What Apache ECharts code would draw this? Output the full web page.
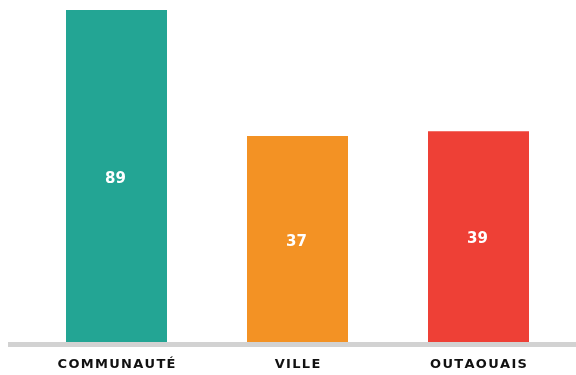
<!DOCTYPE html>
<html>
<head>
<meta charset="utf-8">
<script src="https://cdn.jsdelivr.net/npm/echarts@6/dist/echarts.min.js"></script>
<style>
  html, body { margin: 0; padding: 0; background: #ffffff; }
  #chart { width: 576px; height: 375px; }
</style>
</head>
<body>
<div id="chart"></div>
<script>
// Categories and values
const categories = ['COMMUNAUTÉ', 'VILLE', 'OUTAOUAIS'];
const values = [89, 37, 39];
const barColors = ['#23a594', '#f39224', '#ee4036'];

const chart = echarts.init(document.getElementById('chart'), null, { renderer: 'canvas' });

// Spread the letters of the category labels
const spaced = s => s.split('').join('\u200A');

chart.setOption({
  animation: false,
  grid: { left: 26, right: 7, top: 10, bottom: 33, containLabel: false },
  xAxis: {
    type: 'category',
    data: categories,
    axisLine: { show: false },
    axisTick: { show: false },
    axisLabel: {
      margin: 16,
      color: '#111111',
      fontFamily: 'DejaVu Sans',
      fontWeight: 'bold',
      fontSize: 13,
      formatter: v => spaced(v)
    }
  },
  yAxis: {
    type: 'value',
    min: -48,
    max: 89,
    startValue: -48,
    show: false,
    splitLine: { show: false }
  },
  graphic: [{
    type: 'rect',
    shape: { x: 8, y: 342, width: 568, height: 5 },
    style: { fill: '#d2d2d2' },
    z: 10
  }],
  series: [{
    type: 'bar',
    barWidth: 101,
    data: values.map((v, i) => ({ value: v, itemStyle: { color: barColors[i] } })),
    label: {
      show: true,
      position: 'inside',
      offset: [-1, 3],
      color: '#ffffff',
      fontFamily: 'DejaVu Sans',
      fontWeight: 'bold',
      fontSize: 15
    }
  }]
});
</script>
</body>
</html>
